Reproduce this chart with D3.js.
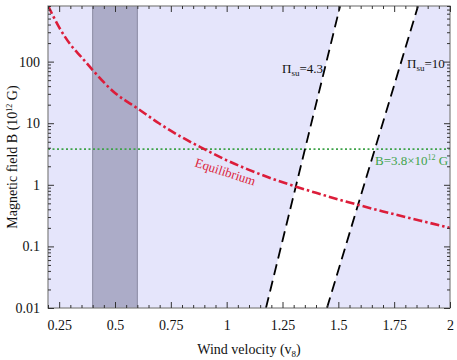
<!DOCTYPE html>
<html>
<head>
<meta charset="utf-8">
<script src="https://cdn.jsdelivr.net/npm/d3@7"></script>
<style>
  body { margin: 0; background: #fff; }
  text { font-family: "Liberation Serif", serif; }
</style>
</head>
<body>
<svg id="chart" width="457" height="360"></svg>
<script>
// equilibrium curve
var velocity = [0.2, 0.25, 0.3, 0.35, 0.4, 0.5, 0.6, 0.7, 0.8, 0.9, 1.0, 1.1, 1.2, 1.3, 1.4, 1.5, 1.6, 1.7, 1.8, 1.9, 2.0];
var bEquil = [810, 360, 190, 118, 73, 31, 17.5, 9.8, 5.9, 3.8, 2.5, 1.75, 1.27, 0.96, 0.74, 0.58, 0.46, 0.37, 0.30, 0.245, 0.2];

// Pi_su lines (end points)
var pi43V = [1.176, 1.508];
var pi10V = [1.449, 1.857];
var piB = [0.01, 800];

var bLine = 3.8;
var band = [0.4, 0.6];

var xTicks = [0.25, 0.5, 0.75, 1, 1.25, 1.5, 1.75, 2];
var xTickLabels = ["0.25", "0.5", "0.75", "1", "1.25", "1.5", "1.75", "2"];
var yTicks = [0.01, 0.1, 1, 10, 100];
var yTickLabels = ["0.01", "0.1", "1", "10", "100"];

var margin = {top: 6, right: 7, bottom: 52, left: 48},
    width = 457 - margin.left - margin.right,
    height = 360 - margin.top - margin.bottom;

var svg = d3.select("#chart")
  .append("g")
    .attr("transform", "translate(" + margin.left + "," + margin.top + ")");

var x = d3.scaleLinear().domain([0.2, 2]).range([0, width]);
var y = d3.scaleLog().domain([0.01, 800]).range([height, 0]);

svg.append("defs").append("clipPath").attr("id", "clip")
  .append("rect").attr("width", width).attr("height", height);

// background
svg.append("rect")
  .attr("width", width).attr("height", height)
  .style("fill", "#e5e5fb");

var plot = svg.append("g").attr("clip-path", "url(#clip)");

// white region between the two Pi_su lines
var region = [
  [x(pi43V[0]), y(piB[0])], [x(pi43V[1]), y(piB[1])],
  [x(pi10V[1]), y(piB[1])], [x(pi10V[0]), y(piB[0])]
];
plot.append("polygon")
  .attr("points", region.map(function(p) { return p.join(","); }).join(" "))
  .style("fill", "#ffffff");

// shaded velocity band
plot.append("rect")
  .attr("x", x(band[0])).attr("width", x(band[1]) - x(band[0]))
  .attr("y", 0).attr("height", height)
  .style("fill", "#acacc8");
band.forEach(function(v) {
  plot.append("line")
    .attr("x1", x(v)).attr("x2", x(v)).attr("y1", 0).attr("y2", height)
    .style("stroke", "#8a8aa2").style("stroke-width", 1);
});

// green B line
plot.append("line")
  .attr("x1", 0).attr("x2", width).attr("y1", y(bLine)).attr("y2", y(bLine))
  .style("stroke", "#3fa34a").style("stroke-width", 1.6)
  .style("stroke-dasharray", "2,2.5");

// Pi_su dashed lines
[pi43V, pi10V].forEach(function(vs) {
  plot.append("line")
    .attr("x1", x(vs[0])).attr("y1", y(piB[0]))
    .attr("x2", x(vs[1])).attr("y2", y(piB[1]))
    .style("stroke", "#000").style("stroke-width", 1.8)
    .style("stroke-dasharray", "11,6");
});

// equilibrium curve
var eq = velocity.map(function(v, i) { return [v, bEquil[i]]; });
var line = d3.line()
  .x(function(d) { return x(d[0]); })
  .y(function(d) { return y(d[1]); })
  .curve(d3.curveMonotoneX);
plot.append("path")
  .datum(eq)
  .attr("d", line)
  .style("fill", "none")
  .style("stroke", "#dc1d3a")
  .style("stroke-width", 2.6)
  .style("stroke-dasharray", "9,3,2.5,3");

// frame
svg.append("rect")
  .attr("width", width).attr("height", height)
  .style("fill", "none").style("stroke", "#808080").style("stroke-width", 1.2);

// ticks
var xMinor = d3.range(0.2, 2.0001, 0.05).filter(function(v) {
  return Math.abs(v / 0.25 - Math.round(v / 0.25)) > 1e-6;
});
var yMinor = [];
[0.01, 0.1, 1, 10, 100].forEach(function(d) {
  for (var k = 2; k <= 9; k++) { if (d * k <= 800) yMinor.push(d * k); }
});

function styleAxis(g) {
  g.select(".domain").remove();
  g.selectAll(".tick line").style("stroke", "#333");
  g.selectAll(".tick text").style("font-size", "14px").style("fill", "#111")
    .style("font-family", "'Liberation Serif', serif");
}

svg.append("g").attr("transform", "translate(0," + height + ")")
  .call(d3.axisBottom(x).tickValues(xTicks).tickSize(-6).tickPadding(12)
    .tickFormat(function(d, i) { return xTickLabels[i]; }))
  .call(styleAxis);
svg.append("g").attr("transform", "translate(0," + height + ")")
  .call(d3.axisBottom(x).tickValues(xMinor).tickSize(-3).tickFormat(""))
  .call(styleAxis);
svg.append("g")
  .call(d3.axisTop(x).tickValues(xTicks).tickSize(-6).tickFormat(""))
  .call(styleAxis);
svg.append("g")
  .call(d3.axisTop(x).tickValues(xMinor).tickSize(-3).tickFormat(""))
  .call(styleAxis);

svg.append("g")
  .call(d3.axisLeft(y).tickValues(yTicks).tickSize(-6).tickPadding(8)
    .tickFormat(function(d, i) { return yTickLabels[i]; }))
  .call(styleAxis);
svg.append("g")
  .call(d3.axisLeft(y).tickValues(yMinor).tickSize(-3).tickFormat(""))
  .call(styleAxis);
svg.append("g").attr("transform", "translate(" + width + ",0)")
  .call(d3.axisRight(y).tickValues(yTicks).tickSize(-6).tickFormat(""))
  .call(styleAxis);
svg.append("g").attr("transform", "translate(" + width + ",0)")
  .call(d3.axisRight(y).tickValues(yMinor).tickSize(-3).tickFormat(""))
  .call(styleAxis);

// annotations
var pi1 = svg.append("text").attr("x", 234).attr("y", 67)
  .style("font-size", "13px").style("fill", "#111");
pi1.append("tspan").text("\u03A0");
pi1.append("tspan").attr("dy", 3).style("font-size", "9px").text("su");
pi1.append("tspan").attr("dy", -3).text("=4.3");

var pi2 = svg.append("text").attr("x", 359).attr("y", 62)
  .style("font-size", "13px").style("fill", "#111");
pi2.append("tspan").text("\u03A0");
pi2.append("tspan").attr("dy", 3).style("font-size", "9px").text("su");
pi2.append("tspan").attr("dy", -3).text("=10");

var bl = svg.append("text").attr("x", 327).attr("y", 159)
  .style("font-size", "13px").style("fill", "#3fa34a");
bl.append("tspan").text("B=3.8\u00D710");
bl.append("tspan").attr("dy", -5).style("font-size", "8px").text("12");
bl.append("tspan").attr("dy", 5).text(" G");

svg.append("text")
  .attr("transform", "translate(176,170) rotate(18)")
  .attr("text-anchor", "middle")
  .style("font-size", "13px").style("fill", "#dc1d3a")
  .text("Equilibrium");

// axis titles
var xt = svg.append("text")
  .attr("x", width / 2).attr("y", height + 46)
  .attr("text-anchor", "middle")
  .style("font-size", "14px").style("fill", "#111");
xt.append("tspan").text("Wind velocity (v");
xt.append("tspan").attr("dy", 3).style("font-size", "9px").text("8");
xt.append("tspan").attr("dy", -3).text(")");

var yt = svg.append("text")
  .attr("transform", "translate(-31," + (height / 2) + ") rotate(-90)")
  .attr("text-anchor", "middle")
  .style("font-size", "14px").style("fill", "#111");
yt.append("tspan").text("Magnetic field B (10");
yt.append("tspan").attr("dy", -5).style("font-size", "8px").text("12");
yt.append("tspan").attr("dy", 5).text(" G)");
</script>
</body>
</html>
